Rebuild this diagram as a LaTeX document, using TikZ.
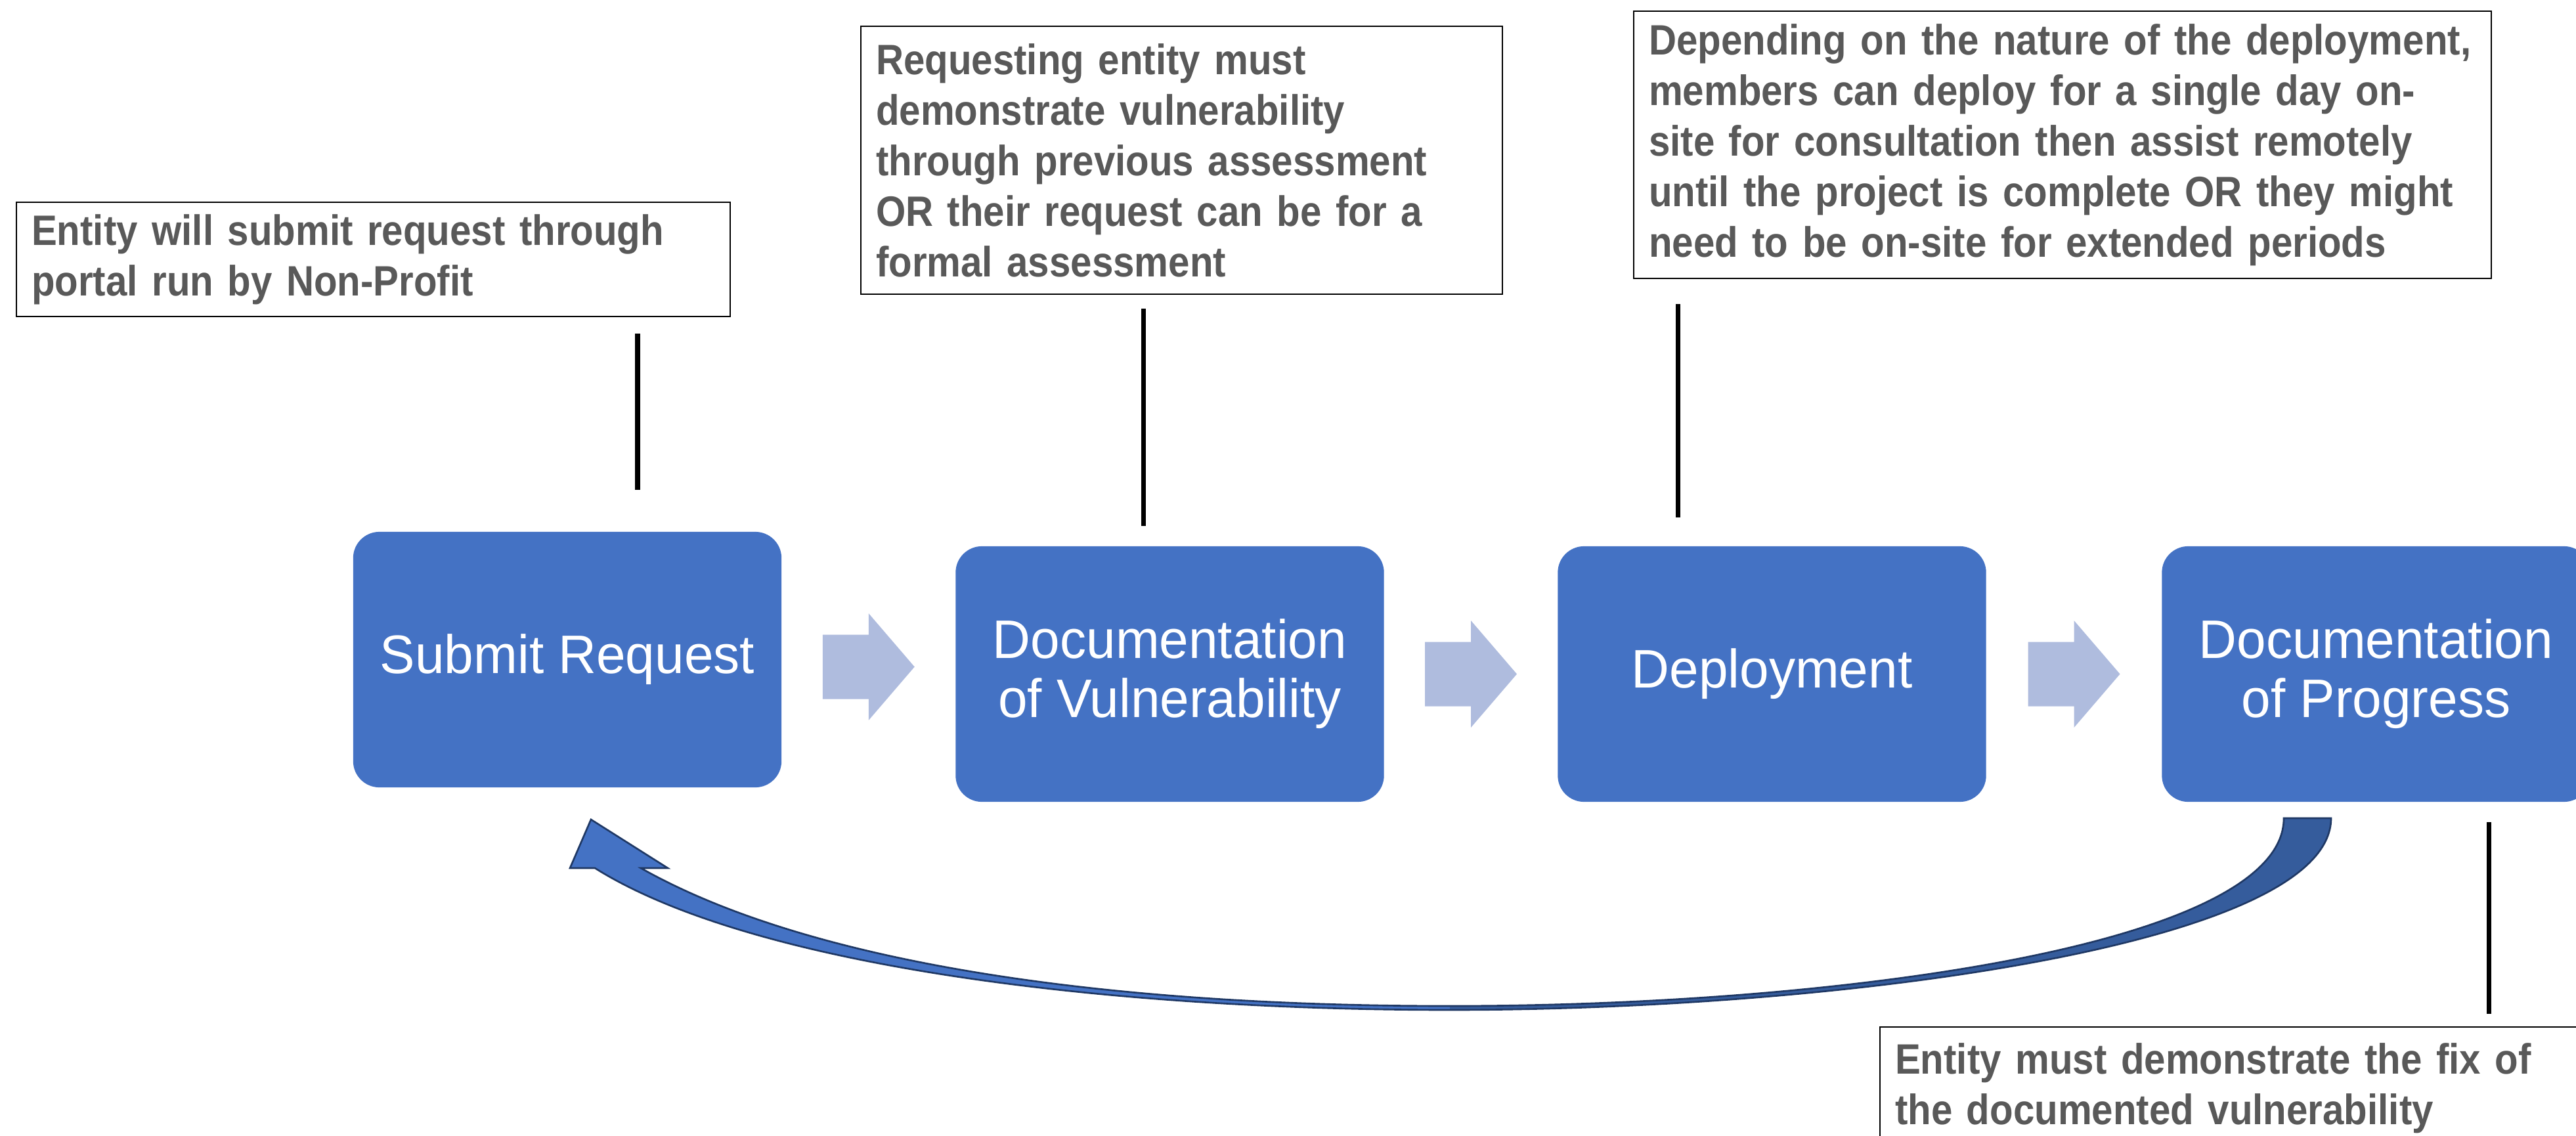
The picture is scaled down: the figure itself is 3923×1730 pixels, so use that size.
\documentclass[tikz,border=0pt]{standalone}
\usepackage{fontspec}
\setmainfont{Liberation Sans}
\newfontfamily\notefont[FakeStretch=0.90]{Liberation Sans}
\newfontfamily\stagefont[FakeStretch=0.97]{Liberation Sans}
\usetikzlibrary{calc}
\hyphenpenalty=10000
\exhyphenpenalty=10000
\definecolor{stageBlue}{RGB}{68, 114, 196}
\definecolor{flowBlue}{RGB}{175, 188, 222}
\definecolor{loopDark}{RGB}{53, 92, 156}
\definecolor{loopEdge}{RGB}{31, 56, 100}
\definecolor{noteGray}{RGB}{89, 89, 89}
\tikzset{
  stage/.style={fill=stageBlue, rounded corners=0.4cm, minimum width=6.52cm,
    minimum height=3.89cm, inner sep=0pt, text=white, align=center,
    font=\stagefont\fontsize{23.5}{25.6}\selectfont},
  note/.style={draw, line width=0.6pt, anchor=north west, align=left,
    inner xsep=0.23cm, inner ysep=0pt, text=noteGray,
    font=\notefont\bfseries\fontsize{18.4}{21.9}\selectfont},
  stem/.style={line width=2pt},
}

\begin{document}
\begin{tikzpicture}[x=0.01cm, y=-0.01cm]
        \useasboundingbox (0,0) rectangle (3923,1730);
        \clip (0,0) rectangle (3923,1730);

        % process stages
        \node[stage] (submit) at (864,1004.5) {Submit Request};
        \node[stage] (docvuln) at (1781.5,1026.5) {Documentation\\of Vulnerability};
        \node[stage] (deploy) at (2698.5,1026.5) {Deployment};
        \node[stage] (docprog) at (3618.5,1026.5) {Documentation\\of Progress};

        % block arrows between stages
        \foreach \a/\b in {submit/docvuln, docvuln/deploy, deploy/docprog}
          \fill[flowBlue] ($(\a.east)!0.5!(\b.west)$) ++(-70,-49) -- ++(70,0) -- ++(0,-32.5)
            -- ++(70,81.5) -- ++(-70,81.5) -- ++(0,-32.5) -- ++(-70,0) -- cycle;

        % notes
        \node[note, text width=10.40cm, minimum height=1.74cm] (note1) at (24,307)
          {Entity will submit request through\\portal run by Non-Profit};
        \node[note, text width=9.30cm, minimum height=4.08cm] (note2) at (1310,39)
          {Requesting entity must\\demonstrate vulnerability\\through previous assessment\\OR their request can be for a\\formal assessment};
        \node[note, text width=12.59cm, minimum height=4.07cm] (note3) at (2487,16)
          {Depending on the nature of the deployment,\\members can deploy for a single day on-\\site for consultation then assist remotely\\until the project is complete OR they might\\need to be on-site for extended periods};
        \node[note, text width=10.32cm, minimum height=1.86cm] (note4) at (2862,1563)
          {Entity must demonstrate the fix of\\the documented vulnerability};

        % stems
        \coordinate (stem1a) at (971,508);   \coordinate (stem1b) at (971,746);
        \coordinate (stem2a) at (1741,470);  \coordinate (stem2b) at (1741,801);
        \coordinate (stem3a) at (2555,463);  \coordinate (stem3b) at (2555,788);
        \coordinate (stem4a) at (3790,1252); \coordinate (stem4b) at (3790,1544);
        \foreach \i in {1,...,4}
          \draw[stem] (stem\i a) -- (stem\i b);

        % loop back arrow
        \fill[stageBlue] (900,1248) -- (1017,1322) -- (976,1322)
          .. controls (1220,1460) and (1650,1532) .. (2208,1532) -- (2208,1538)
          .. controls (1700,1538) and (1150,1475) .. (906,1322) -- (868,1322) -- cycle;
        \fill[loopDark] (2208,1532) .. controls (2800,1532) and (3478,1440) .. (3478,1246)
          -- (3550,1246) .. controls (3550,1440) and (2800,1538) .. (2208,1538) -- cycle;
        \draw[loopEdge, line width=0.75pt] (900,1248) -- (1017,1322) -- (976,1322)
          .. controls (1220,1460) and (1650,1532) .. (2208,1532)
          .. controls (2800,1532) and (3478,1440) .. (3478,1246)
          -- (3550,1246) .. controls (3550,1440) and (2800,1538) .. (2208,1538)
          .. controls (1700,1538) and (1150,1475) .. (906,1322) -- (868,1322) -- cycle;
      \end{tikzpicture}
\end{document}
